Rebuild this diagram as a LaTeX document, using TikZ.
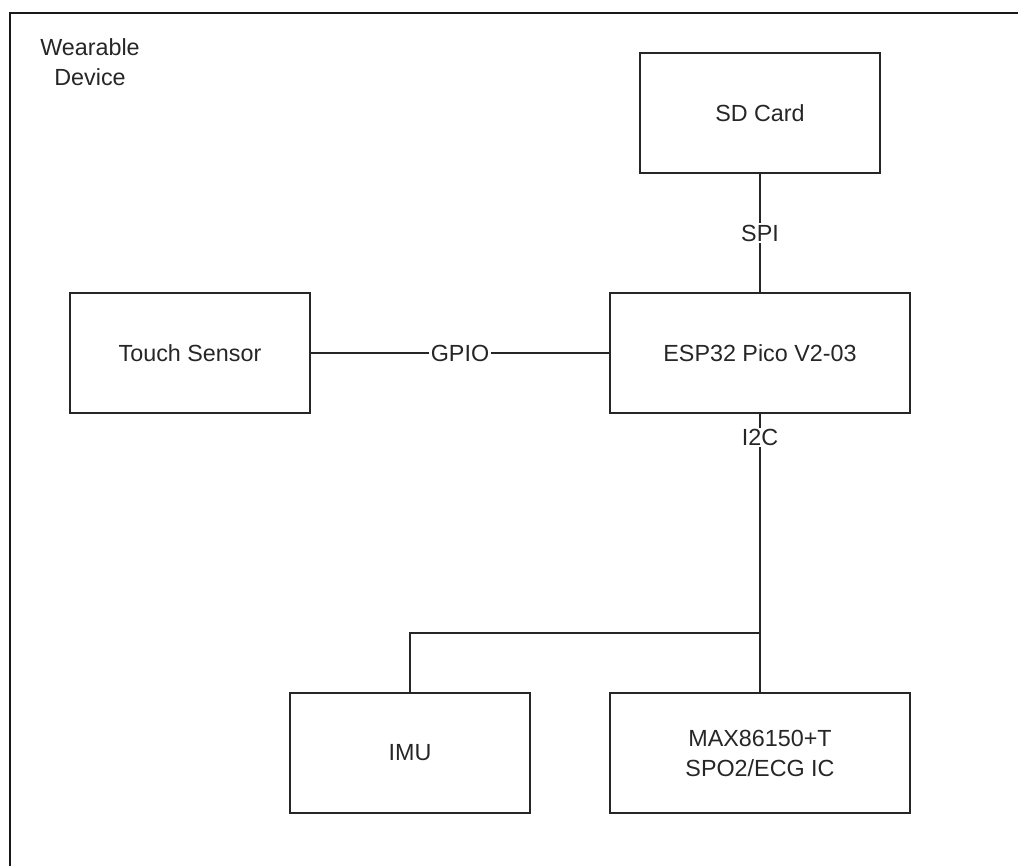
\documentclass[tikz,border=0pt]{standalone}
\usepackage{fontspec}
\setmainfont{Liberation Sans}
\begin{document}
\begin{tikzpicture}[x=0.75pt,y=-0.75pt,
  every node/.style={font=\fontsize{17.5pt}{22.5pt}\selectfont, text=black!85},
  box/.style={draw=black!85, line width=1.2pt, inner sep=0pt, minimum height=90pt},
  narrow/.style={box, minimum width=180pt},
  wide/.style={box, minimum width=225pt},
  wire/.style={draw=black!85, line width=1.2pt},
  lbl/.style={fill=white, inner sep=1pt}]
\useasboundingbox (0,0) rectangle (1018,866);
\draw[draw=black!90, line width=1.8pt] (10,866) -- (10,13) -- (1018,13);
\node[align=center] (title) at (90,62) {Wearable\\Device};
\node[narrow] (sd) at (760,113) {SD Card};
\node[narrow] (touch) at (190,353) {Touch Sensor};
\node[wide] (esp) at (760,353) {ESP32 Pico V2-03};
\node[narrow] (imu) at (410,753) {IMU};
\node[wide, align=center] (max) at (760,753) {MAX86150+T\\SPO2/ECG IC};
\coordinate (br) at (760,633);
\draw[wire] (sd.south) -- node[lbl] {SPI} (esp.north);
\draw[wire] (touch.east) -- node[lbl] {GPIO} (esp.west);
\draw[wire] (esp.south) -- node[lbl, pos=0.085] {I2C} (max.north);
\draw[wire] (br) -| (imu.north);
\end{tikzpicture}
\end{document}
